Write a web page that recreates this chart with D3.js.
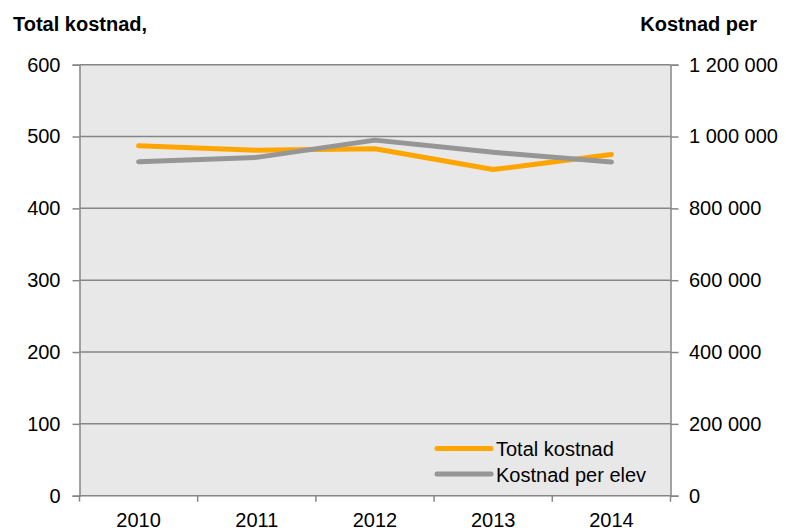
<!DOCTYPE html>
<html><head><meta charset="utf-8">
<script src="https://cdn.jsdelivr.net/npm/d3@7/dist/d3.min.js"></script>
<style>body{margin:0;background:#fff}svg{display:block;font-family:"Liberation Sans",Arial,sans-serif}</style>
</head><body>
<script>
const years = ["2010","2011","2012","2013","2014"];
const totalKostnad = [487, 481, 483, 454, 475];
const kostnadPerElev = [930000, 942000, 990000, 956000, 929000];
const leftTicks = [0,100,200,300,400,500,600];
const rightTicks = [0,200000,400000,600000,800000,1000000,1200000];

const W=786,H=532, L=79.5, R=670.5, T=64.7, B=495.7;
const FS=20;
const svg=d3.select("body").append("svg").attr("width",W).attr("height",H);
const x=d3.scaleBand().domain(years).range([L,R]);
const yL=d3.scaleLinear().domain([0,600]).range([B,T]);
const yR=d3.scaleLinear().domain([0,1200000]).range([B,T]);
const fmt=v=>d3.format(",")(v).replace(/,/g," ");

svg.append("rect").attr("x",L).attr("y",T).attr("width",R-L).attr("height",B-T).attr("fill","#e8e8e8");
svg.append("g").selectAll("line").data(leftTicks.filter(d=>d>0)).join("line")
 .attr("x1",L).attr("x2",R).attr("y1",d=>yL(d)).attr("y2",d=>yL(d)).attr("stroke","#868686").attr("stroke-width",1.5);

const gl=svg.append("g").attr("transform",`translate(${L},0)`).call(d3.axisLeft(yL).tickValues(leftTicks).tickSize(7).tickPadding(12));
const gr=svg.append("g").attr("transform",`translate(${R},0)`).call(d3.axisRight(yR).tickValues(rightTicks).tickSize(8).tickPadding(10.5).tickFormat(fmt));
const gb=svg.append("g").attr("transform",`translate(0,${B})`).call(d3.axisBottom(x).tickSize(0).tickPadding(17));
svg.append("g").selectAll("line").data(years.concat(["end"])).join("line")
 .attr("x1",(d,i)=>L+i*x.step()).attr("x2",(d,i)=>L+i*x.step()).attr("y1",B).attr("y2",B+6).attr("stroke","#868686").attr("stroke-width",1.5);
[gl,gr,gb].forEach(g=>{
  g.selectAll("path,line").attr("stroke","#868686").attr("stroke-width",1.5);
  g.selectAll("text").attr("font-size",FS).attr("fill","#000").attr("font-family","'Liberation Sans',Arial,sans-serif");
});
gb.select(".domain").remove();
svg.append("line").attr("x1",L).attr("x2",R).attr("y1",B).attr("y2",B).attr("stroke","#868686").attr("stroke-width",1.5);

const cx=d=>x(d)+x.bandwidth()/2;
svg.append("path").datum(totalKostnad).attr("fill","none").attr("stroke","#ffa500").attr("stroke-width",5).attr("stroke-linecap","round").attr("stroke-linejoin","round")
 .attr("d",d3.line().x((d,i)=>cx(years[i])).y(d=>yL(d)));
svg.append("path").datum(kostnadPerElev).attr("fill","none").attr("stroke","#969696").attr("stroke-width",5).attr("stroke-linecap","round").attr("stroke-linejoin","round")
 .attr("d",d3.line().x((d,i)=>cx(years[i])).y(d=>yR(d)));

svg.append("text").attr("x",13).attr("y",31).attr("font-size",FS).attr("font-weight","bold").text("Total kostnad,");
svg.append("text").attr("x",757).attr("y",31).attr("text-anchor","end").attr("font-size",FS).attr("font-weight","bold").text("Kostnad per");

const leg=[["Total kostnad","#ffa500"],["Kostnad per elev","#969696"]];
leg.forEach(([t,c],i)=>{
  const yy=448.5+i*25.5;
  svg.append("line").attr("x1",437).attr("x2",491).attr("y1",yy).attr("y2",yy).attr("stroke",c).attr("stroke-width",5).attr("stroke-linecap","round");
  svg.append("text").attr("x",496).attr("y",yy+7.5).attr("font-size",FS).text(t);
});
</script>
</body></html>
